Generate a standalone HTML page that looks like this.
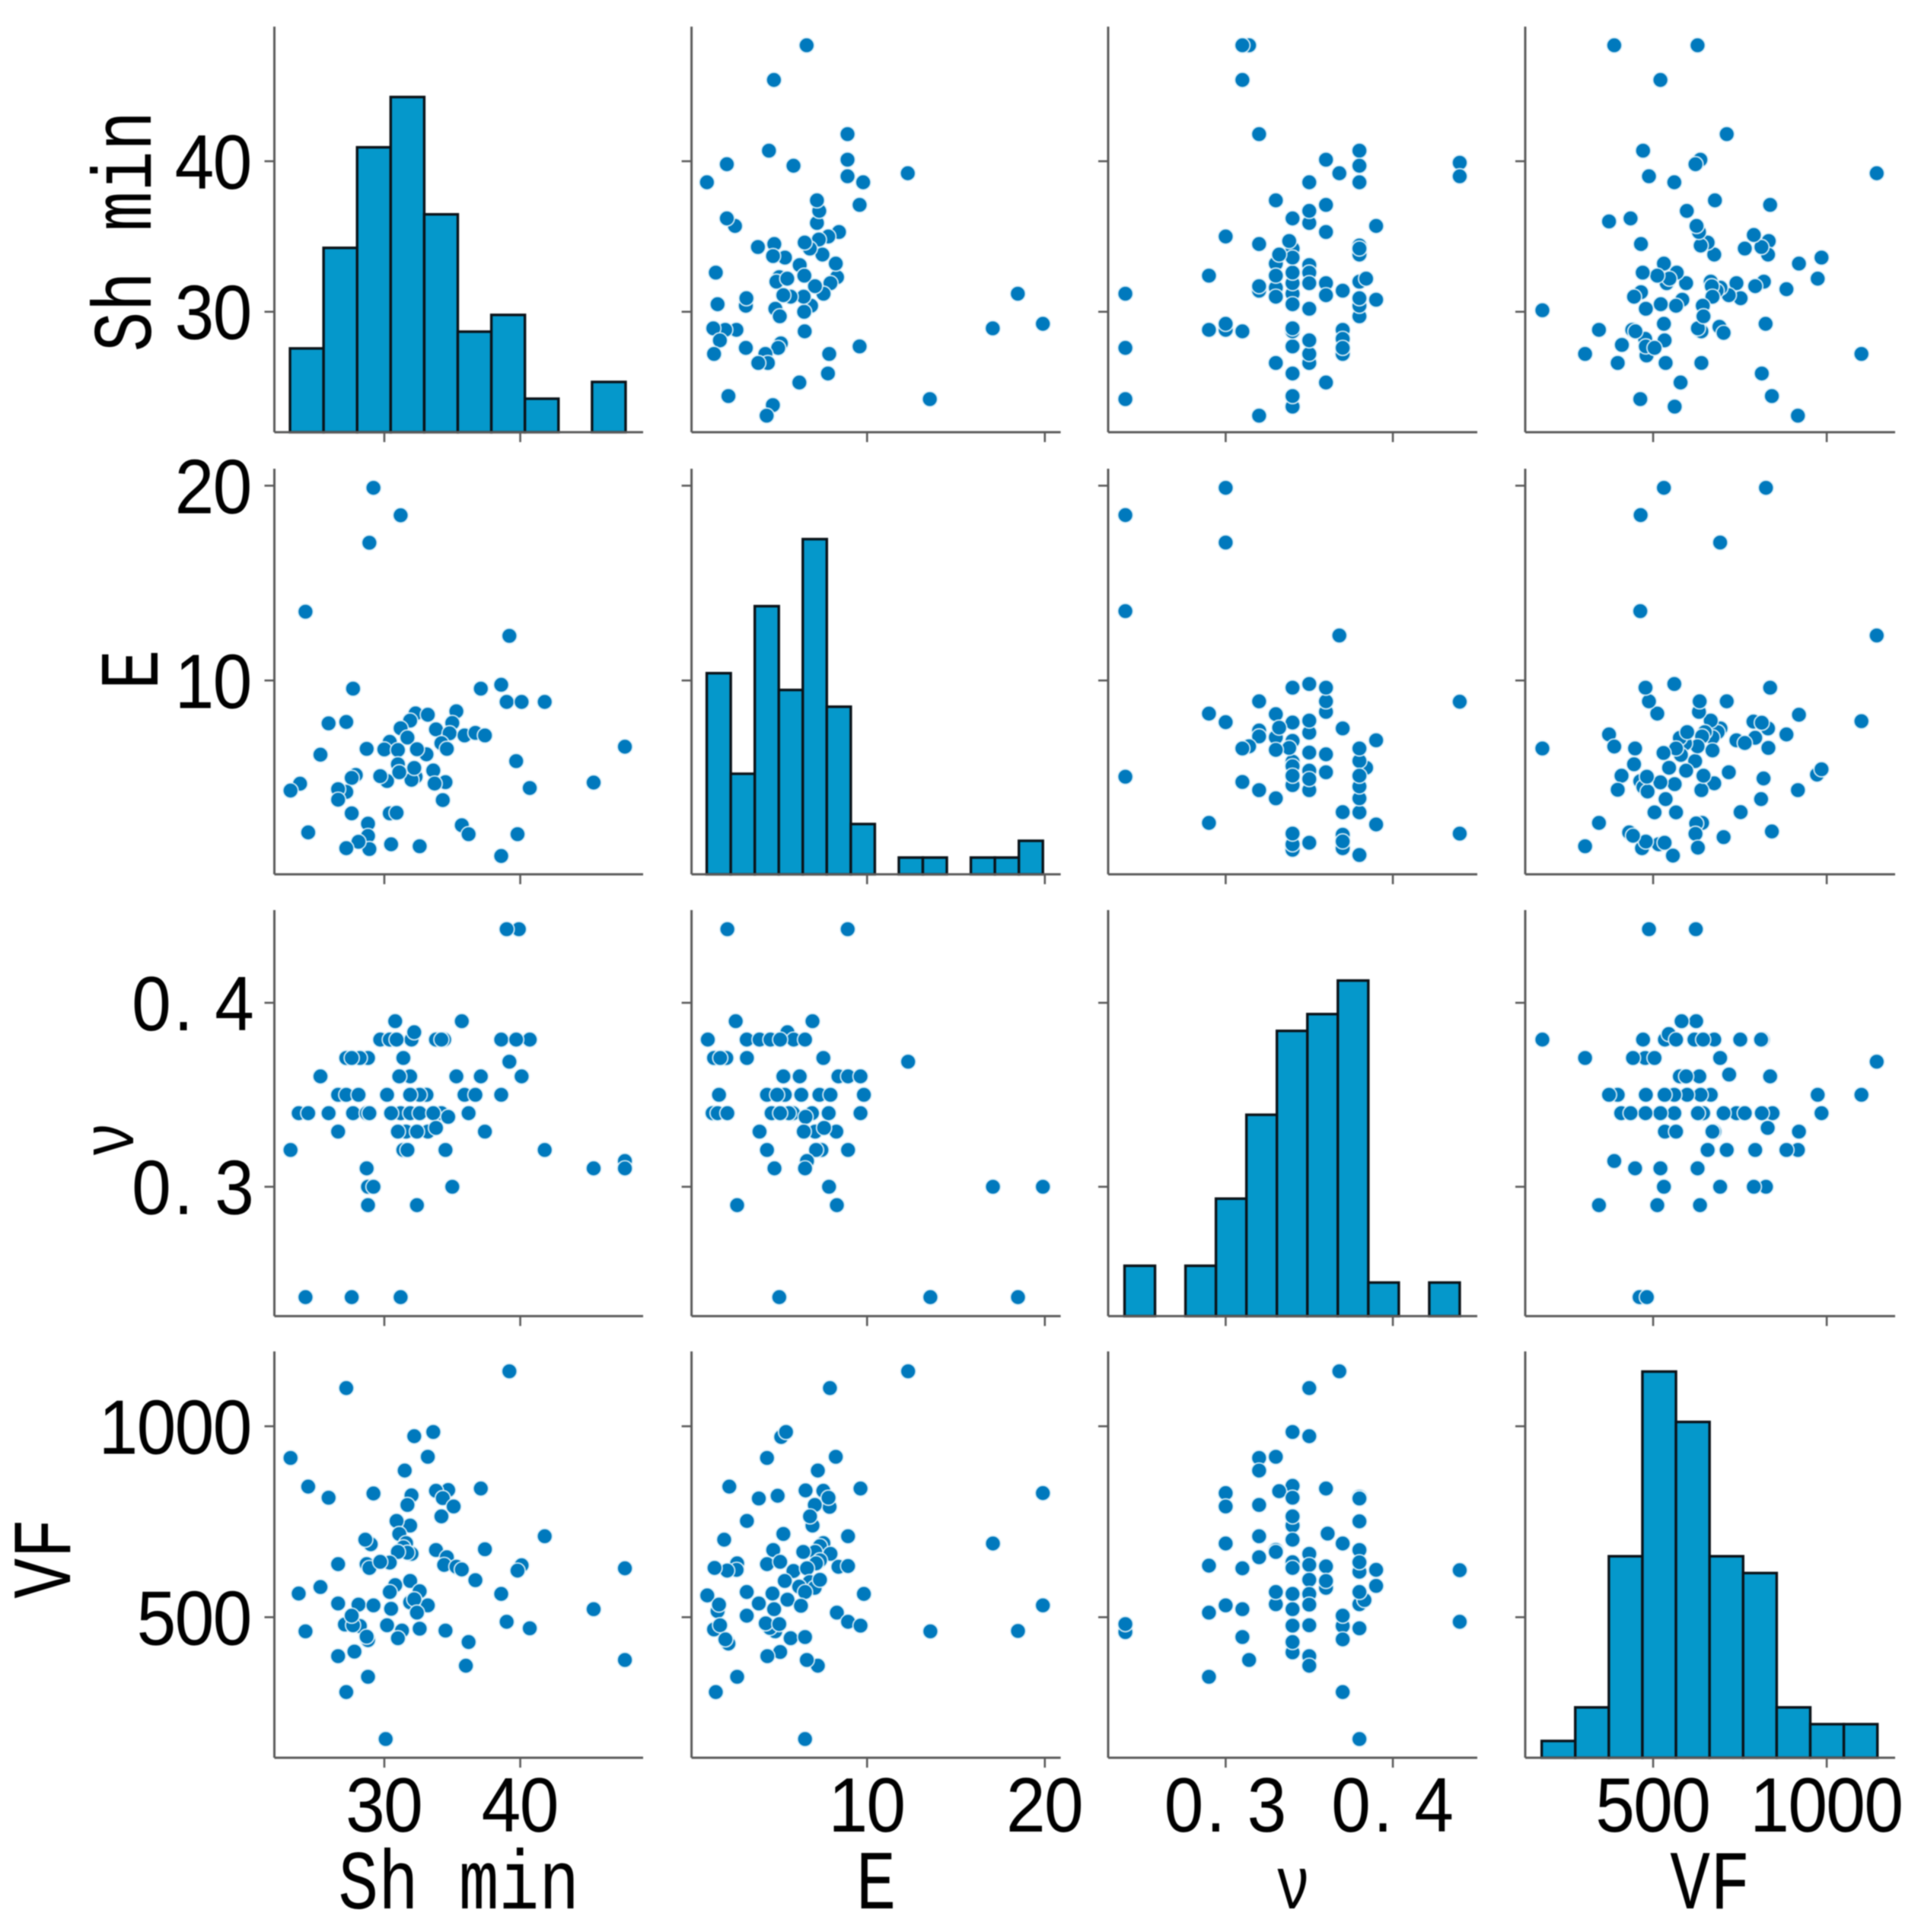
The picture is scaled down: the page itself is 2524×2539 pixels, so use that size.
<!DOCTYPE html>
<html lang="en">
<head>
<meta charset="utf-8">
<title>Pair plot of Sh min, E, v and VF</title>
<style>
html,body{margin:0;padding:0;background:#fff;width:2524px;height:2539px;overflow:hidden}
#chart{position:absolute;left:0;top:0;width:2524px;height:2539px;display:block;filter:blur(0.7px)}
text{fill:#000}
.tick-text{font-family:"Liberation Sans","Noto Sans CJK JP",sans-serif}
.title-text{font-family:"Liberation Mono","Noto Sans CJK JP",monospace}
</style>
</head>
<body>
<svg id="chart" xmlns="http://www.w3.org/2000/svg" width="2524" height="2539" viewBox="0 0 2524 2539"></svg>
<script>
// ---- Data: each array holds [first variable, second variable] ----
const variableNames = ['Sh min', 'E', 'ν', 'VF'];
const shVsE = [[29.2,19.89],[31.2,18.48],[28.9,17.07],[24.2,13.53],[39.2,12.29],[27.7,9.58],[37.1,9.58],[38.6,9.78],[39.0,8.9],[40.1,8.9],[41.8,8.9],[35.3,8.42],[32.3,8.31],[33.2,8.24],[31.9,7.94],[35.0,7.82],[27.2,7.87],[25.9,7.8],[33.8,7.49],[31.2,7.55],[34.8,7.29],[35.9,7.18],[36.7,7.31],[37.4,7.18],[31.7,7.07],[34.2,6.78],[30.4,6.85],[28.7,6.49],[30.0,6.46],[31.0,6.43],[33.1,6.21],[32.4,6.47],[34.6,6.49],[25.3,6.19],[47.7,6.6],[39.7,5.86],[31.0,5.7],[32.3,5.06],[32.0,4.9],[32.2,5.51],[33.6,5.38],[30.2,4.84],[31.1,5.29],[29.7,5.09],[27.9,5.15],[27.6,5.0],[34.5,4.78],[33.7,4.71],[23.8,4.7],[23.1,4.35],[27.2,4.28],[26.6,4.42],[26.6,3.88],[40.7,4.48],[45.4,4.76],[34.3,3.86],[27.6,3.18],[30.4,3.18],[30.9,3.21],[28.8,2.65],[35.7,2.57],[36.2,2.11],[39.8,2.11],[24.4,2.2],[28.8,2.02],[28.9,1.35],[28.1,1.72],[27.2,1.39],[30.5,1.59],[32.6,1.49],[38.6,0.99]];
const shVsV = [[39.9,0.44],[39.0,0.44],[30.8,0.39],[35.7,0.39],[32.0,0.38],[32.2,0.384],[29.7,0.38],[30.4,0.38],[30.9,0.38],[33.8,0.38],[34.4,0.38],[34.2,0.38],[38.6,0.38],[40.7,0.38],[39.7,0.38],[27.2,0.37],[28.8,0.37],[28.2,0.37],[27.6,0.37],[31.4,0.37],[39.2,0.368],[25.3,0.36],[31.9,0.36],[31.1,0.36],[35.3,0.36],[37.1,0.36],[40.1,0.36],[26.6,0.35],[27.2,0.35],[28.1,0.35],[30.2,0.35],[33.1,0.35],[32.6,0.35],[31.9,0.35],[35.9,0.35],[36.7,0.35],[38.6,0.35],[23.7,0.34],[24.4,0.34],[25.9,0.34],[27.7,0.34],[28.7,0.34],[28.9,0.34],[31.2,0.34],[30.5,0.34],[31.9,0.34],[34.2,0.34],[32.6,0.34],[33.6,0.34],[36.2,0.34],[34.7,0.338],[26.6,0.33],[31.6,0.33],[31.0,0.33],[33.2,0.33],[32.4,0.33],[37.4,0.33],[33.8,0.332],[23.1,0.32],[31.4,0.32],[31.7,0.32],[34.5,0.32],[41.8,0.32],[28.7,0.31],[45.4,0.31],[47.7,0.314],[47.7,0.31],[28.8,0.3],[29.2,0.3],[35.0,0.3],[28.8,0.29],[32.4,0.29],[24.2,0.24],[27.6,0.24],[31.2,0.24]];
const shVsVF = [[39.2,1144],[27.2,1100],[33.6,985],[32.2,974],[23.1,917],[33.2,920],[31.5,884],[24.4,842],[34.7,833],[33.8,831],[37.1,837],[25.9,813],[29.2,824],[32.0,819],[34.3,812],[31.7,794],[35.1,790],[34.2,764],[31.9,740],[30.9,752],[31.1,718],[41.8,712],[29.0,691],[28.6,703],[31.6,694],[31.4,683],[33.8,676],[37.4,678],[32.0,666],[31.7,669],[31.0,671],[34.6,657],[40.1,636],[39.8,622],[47.7,628],[34.4,637],[35.3,632],[35.7,625],[26.6,639],[28.7,639],[28.9,629],[30.4,643],[29.7,645],[36.7,597],[30.8,584],[31.9,595],[30.4,566],[32.6,568],[23.7,562],[25.3,579],[38.6,561],[33.2,531],[31.9,539],[32.2,547],[26.6,536],[28.1,533],[29.2,531],[30.5,522],[32.4,512],[45.4,521],[27.1,481],[28.2,477],[27.7,479],[27.6,504],[39.0,488],[30.2,479],[32.6,470],[34.5,465],[40.7,471],[24.2,463],[31.3,465],[31.0,445],[28.8,440],[28.7,449],[36.2,435],[27.8,410],[26.6,398],[47.7,388],[36.0,373],[28.8,344],[27.2,304],[30.1,181]];
const eVsV = [[2.14,0.44],[8.91,0.44],[2.61,0.39],[6.93,0.39],[5.52,0.384],[1.04,0.38],[3.23,0.38],[3.95,0.38],[4.56,0.38],[5.87,0.38],[5.11,0.38],[6.51,0.38],[1.39,0.37],[2.08,0.37],[1.74,0.37],[3.24,0.37],[7.54,0.37],[12.31,0.368],[5.29,0.36],[6.21,0.36],[8.39,0.36],[8.93,0.36],[9.63,0.36],[1.67,0.35],[4.37,0.35],[5.37,0.35],[4.94,0.35],[6.3,0.35],[7.32,0.35],[7.94,0.35],[9.82,0.35],[1.31,0.34],[1.59,0.34],[2.14,0.34],[4.63,0.34],[5.83,0.34],[5.6,0.34],[5.11,0.34],[6.9,0.34],[7.84,0.34],[9.63,0.34],[6.54,0.338],[3.95,0.33],[7.08,0.33],[6.44,0.33],[8.27,0.33],[7.58,0.332],[4.37,0.32],[7.43,0.32],[7.13,0.32],[8.93,0.32],[6.62,0.314],[4.79,0.31],[6.51,0.31],[7.86,0.3],[17.08,0.3],[19.89,0.3],[2.69,0.29],[8.3,0.29],[5.06,0.24],[13.56,0.24],[18.49,0.24]];
const eVsVF = [[12.31,1144],[7.91,1100],[5.17,972],[5.44,985],[4.37,917],[8.24,920],[7.23,884],[2.25,842],[7.54,831],[6.54,832],[9.63,837],[19.89,825],[3.91,811],[4.97,818],[7.89,789],[7.83,813],[7.06,794],[6.93,740],[6.79,764],[3.24,752],[5.29,718],[1.96,703],[8.93,712],[17.08,693],[7.54,694],[7.35,686],[4.72,676],[7.08,671],[6.41,671],[7.94,666],[7.35,649],[7.13,641],[2.69,641],[2.66,624],[2.13,622],[1.42,629],[5.86,621],[4.37,639],[5.11,645],[6.62,628],[8.39,632],[8.93,634],[6.77,592],[7.05,577],[6.18,580],[5.37,595],[7.35,598],[6.51,566],[3.23,566],[4.68,562],[1.01,557],[9.82,561],[5.52,546],[1.59,516],[1.67,533],[3.91,536],[6.28,530],[4.77,521],[19.89,531],[3.23,504],[8.3,512],[8.93,488],[9.63,478],[4.83,463],[4.53,472],[4.3,484],[5.06,482],[1.39,468],[1.73,479],[13.56,463],[18.49,464],[2.2,431],[2.03,442],[5.7,445],[6.51,448],[5.11,409],[4.39,398],[7.23,373],[6.61,388],[2.69,344],[1.49,304],[6.51,181]];
const vVsVF = [[0.368,1144],[0.35,1100],[0.34,985],[0.35,974],[0.32,917],[0.33,920],[0.32,884],[0.30,825],[0.30,790],[0.34,844],[0.332,830],[0.34,813],[0.36,837],[0.38,815],[0.38,811],[0.32,794],[0.34,740],[0.34,764],[0.38,751],[0.361,719],[0.32,712],[0.34,703],[0.30,693],[0.37,693],[0.33,676],[0.33,671],[0.38,676],[0.35,666],[0.32,657],[0.34,644],[0.34,629],[0.35,637],[0.36,633],[0.29,635],[0.31,628],[0.38,619],[0.38,644],[0.39,624],[0.44,623],[0.35,598],[0.36,577],[0.36,595],[0.39,582],[0.33,534],[0.33,566],[0.35,561],[0.34,561],[0.38,534],[0.383,545],[0.38,566],[0.35,533],[0.30,531],[0.34,521],[0.31,521],[0.29,512],[0.37,477],[0.37,504],[0.44,488],[0.34,478],[0.35,479],[0.38,471],[0.24,461],[0.24,482],[0.37,442],[0.31,448],[0.34,408],[0.34,435],[0.35,398],[0.35,373],[0.314,388],[0.29,344],[0.37,304],[0.38,181]];

// Histogram bin counts and the data range they span
const shBinCounts = [5,11,17,20,13,6,7,2,0,3];
const eBinCounts = [12,6,16,11,20,10,3,0,1,1,0,1,1,2];
const vBinCounts = [3,0,3,7,12,17,18,20,2,0,2];
const vfBinCounts = [1,3,12,23,20,12,11,3,2,2];
const shBinRange = [23.06,47.75];
const eBinRange = [0.98,19.89];
const vBinRange = [0.2395,0.44];
const vfBinRange = [179,1146];

// Tick values and their printed labels
const shTicks = [30,40];
const shTickLabels = ['30','40'];
const eTicks = [10,20];
const eTickLabels = ['10','20'];
const vTicks = [0.3,0.4];
const vTickLabels = ['0.3','0.4'];
const vfTicks = [500,1000];
const vfTickLabels = ['500','1000'];

// ---- Layout (axis calibration) ----
const columns = [
  {left:360.5, right:845, min:21.91, max:49.04},
  {left:908.6, right:1393.6, min:0.124, max:20.89},
  {left:1456, right:1941, min:0.2297, max:0.4505},
  {left:2004, right:2490, min:131.6, max:1197}
];
const rows = [
  {top:35, bottom:568, min:22.0, max:48.94},
  {top:616, bottom:1149, min:0.05, max:20.87},
  {top:1196, bottom:1729.6, min:0.2297, max:0.4504},
  {top:1776, bottom:2310, min:132, max:1196}
];
const countMax = 24.2;
const ticksByVar = [shTicks,eTicks,vTicks,vfTicks];
const tickLabelsByVar = [shTickLabels,eTickLabels,vTickLabels,vfTickLabels];
const binCountsByVar = [shBinCounts,eBinCounts,vBinCounts,vfBinCounts];
const binRangeByVar = [shBinRange,eBinRange,vBinRange,vfBinRange];
const pairTable = {'0-1':shVsE,'0-2':shVsV,'0-3':shVsVF,'1-2':eVsV,'1-3':eVsVF,'2-3':vVsVF};
const yLabelSpots = [{x:198,y:304},{x:207,y:880},{x:175,y:1498},{x:92,y:2048}];

const AXIS = '#5a5a5a', BAR = '#0598cb', EDGE = '#0a1218', DOT = '#0079bd';
const TICK_FONT = 101, TICK_SQUEEZE = 0.92, CELL = 50, TITLE_SQUEEZE = 0.8;
const NS = 'http://www.w3.org/2000/svg';
const svg = document.getElementById('chart');

function xScale(c, v){ const a = columns[c]; return a.left + (v - a.min) / (a.max - a.min) * (a.right - a.left); }
function yScale(r, v){ const a = rows[r]; return a.bottom - (v - a.min) / (a.max - a.min) * (a.bottom - a.top); }
function countScale(r, n){ const a = rows[r]; return a.bottom - n / countMax * (a.bottom - a.top); }

function make(tag, parent, props){
  const el = document.createElementNS(NS, tag);
  for (const k in props) el.setAttribute(k, props[k]);
  parent.appendChild(el);
  return el;
}
function line(parent, x1, y1, x2, y2, w){
  return make('line', parent, {x1:x1, y1:y1, x2:x2, y2:y2, stroke:AXIS, 'stroke-width':w});
}
// Half-width look of the original font: every character sits in its own cell
function labelWidth(str){ return str.indexOf('.') >= 0 ? 153 : str.length * CELL; }
function charOffsets(str){
  if (str.indexOf('.') >= 0) return [-55, -13, 54];
  return str.split('').map(function(ch, i){ return (i - (str.length - 1) / 2) * CELL; });
}
function tickText(parent, str, cx, baseline){
  const xs = charOffsets(str).map(function(o){ return ((cx + o) / TICK_SQUEEZE).toFixed(1); }).join(' ');
  const t = make('text', parent, {x:xs, y:baseline, 'font-size':TICK_FONT, 'text-anchor':'middle', 'class':'tick-text', transform:'scale(' + TICK_SQUEEZE + ' 1)'});
  t.textContent = str;
  return t;
}

function drawAxes(g, r, c){
  const col = columns[c], row = rows[r];
  const yAxis = line(g, col.left, row.top, col.left, row.bottom, 3);
  
  
  const xAxis = line(g, col.left, row.bottom, col.right, row.bottom, 3);
  
  
  ticksByVar[r].forEach(function(t, i){
    const y = yScale(r, t);
    const tick = line(g, col.left - 13, y, col.left, y, 2.6);
    
    
    if (c === 0){
      const s = tickLabelsByVar[r][i];
      const lab = tickText(g, s, col.left - 30 - labelWidth(s) / 2, y + 36);
      
      
    }
  });
  ticksByVar[c].forEach(function(t, i){
    const x = xScale(c, t);
    const tick = line(g, x, row.bottom, x, row.bottom + 13, 2.6);
    
    
    if (r === 3){
      const lab = tickText(g, tickLabelsByVar[c][i], x, 2407);
      
      
    }
  });
}

function drawHistogram(g, i){
  const counts = binCountsByVar[i], range = binRangeByVar[i];
  const width = (range[1] - range[0]) / counts.length;
  counts.forEach(function(n, b){
    if (!n) return;
    const x0 = xScale(i, range[0] + b * width), x1 = xScale(i, range[0] + (b + 1) * width);
    const top = countScale(i, n);
    const bar = make('rect', g, {x:x0, y:top, width:x1 - x0, height:countScale(i, 0) - top, fill:BAR, stroke:EDGE, 'stroke-width':3.4});
    
    
  });
}

function drawScatter(g, r, c){
  const swap = r < c;
  const pts = swap ? pairTable[r + '-' + c] : pairTable[c + '-' + r];
  pts.forEach(function(p){
    const xv = swap ? p[1] : p[0], yv = swap ? p[0] : p[1];
    const dot = make('circle', g, {cx:xScale(c, xv), cy:yScale(r, yv), r:10, fill:DOT, stroke:'#dff0f8', 'stroke-width':1.7});
    
    
  });
}

rows.forEach(function(row, r){
  columns.forEach(function(col, c){
    const g = make('g', svg, {});
    
    
    if (r === c) drawHistogram(g, r); else drawScatter(g, r, c);
    drawAxes(g, r, c);
  });
});

variableNames.forEach(function(name, i){
  const col = columns[i];
  const size = name === 'ν' ? 98 : 110;
  const xl = make('text', svg, {x:0, y:0, 'font-size':size, 'text-anchor':'middle', 'class':'title-text', transform:'translate(' + ((col.left + col.right) / 2) + ' 2508) scale(' + TITLE_SQUEEZE + ' 1)'});
  xl.textContent = name;
  
  
  const s = yLabelSpots[i];
  const yl = make('text', svg, {x:0, y:0, 'font-size':size, 'text-anchor':'middle', 'class':'title-text', transform:'translate(' + s.x + ' ' + s.y + ') rotate(-90) scale(' + TITLE_SQUEEZE + ' 1)'});
  yl.textContent = name;
  
  
});
</script>
</body>
</html>
